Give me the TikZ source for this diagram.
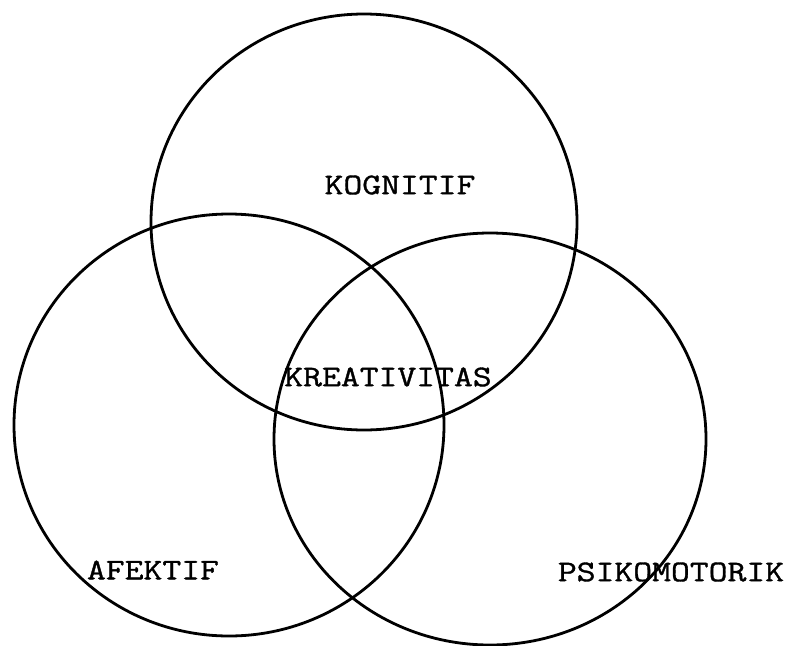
\documentclass[tikz,border=0pt]{standalone}
\usepackage{fontspec}
\newfontfamily\labelfont[FakeStretch=1.22,FakeBold=1.2]{Latin Modern Mono}
\usetikzlibrary{calc}

\tikzset{
  ring/.style={line width=2.8pt},
  tag/.style={font=\labelfont\fontsize{30}{30}\selectfont,inner sep=0pt}
}

\begin{document}
\begin{tikzpicture}[x=1pt,y=-1pt]
  \useasboundingbox (0,0) rectangle (791,645);
  % centres of the three domains
  \coordinate (kog) at (364,222);
  \coordinate (afe) at (229,425);
  \coordinate (psi) at (490,439);
  % rings
  \draw[ring] (kog) ellipse [x radius=213pt,y radius=208pt];
  \draw[ring] (afe) ellipse [x radius=215pt,y radius=211pt];
  \draw[ring] (psi) ellipse [x radius=216pt,y radius=206pt];
  % labels
  \node[tag] (kognitif) at (400,185) {KOGNITIF};
  \node[tag] (kreatif) at (388,377) {KREATIVITAS};
  \node[tag] (afektif) at (153,570) {AFEKTIF};
  \node[tag] (psikomotorik) at (671,572) {PSIKOMOTORIK};
\end{tikzpicture}
\end{document}
